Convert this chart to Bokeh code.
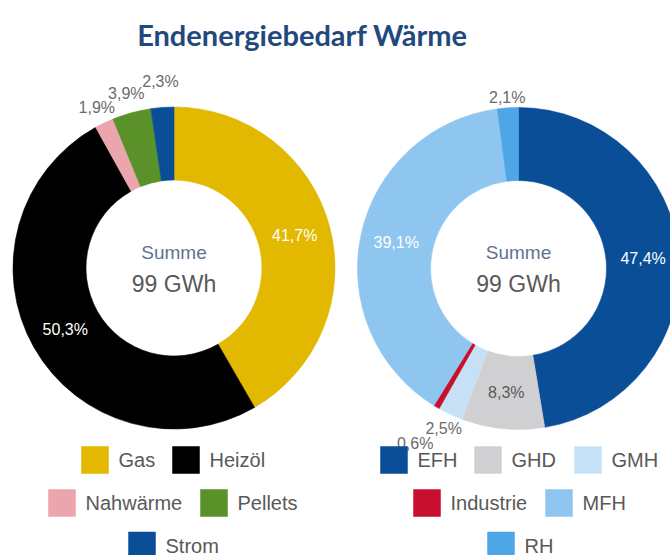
import numpy as np
from bokeh.plotting import figure
from bokeh.models import Range1d, ColumnDataSource
from bokeh.core.properties import value
from bokeh.embed import file_html
from bokeh.resources import INLINE

# ---------------- data ----------------
title_text = "Endenergiebedarf Wärme"
center_caption = "Summe"
center_total = "99 GWh"

energy_categories = ["Gas", "Heizöl", "Nahwärme", "Pellets", "Strom"]
energy_shares = [41.7, 50.3, 1.9, 3.9, 2.3]
energy_colors = ["#e2b800", "#000000", "#eba6ad", "#5a9129", "#0a4e98"]

building_categories = ["EFH", "GHD", "GMH", "Industrie", "MFH", "RH"]
building_shares = [47.4, 8.3, 2.5, 0.6, 39.1, 2.1]
building_colors = ["#0a4e98", "#d0d0d2", "#c6e1f6", "#c8102e", "#8ec6ef", "#4fa6e6"]

# ---------------- layout ----------------
W, H = 670, 555
MARGIN = 0


def X(px):
    return px - MARGIN


def Y(py):
    return H - (py - MARGIN)


R_OUT, R_IN, R_LABEL = 161, 88, 125
LABEL_FONT = "Liberation Sans"

p = figure(width=W, height=H, output_backend="svg", toolbar_location=None,
           x_range=Range1d(0, W), y_range=Range1d(0, H),
           x_axis_location=None, y_axis_location=None, min_border=0)
p.grid.visible = False
p.outline_line_color = None
p.background_fill_color = "white"
p.border_fill_color = "white"


def donut(cats, shares, colors, cpx, cpy, outside_r, legend_x, legend_row):
    cx, cy = X(cpx), Y(cpy)
    vals = np.array(shares, dtype=float)
    frac = vals / vals.sum()
    ends = np.cumsum(frac) * 2 * np.pi
    starts = ends - frac * 2 * np.pi
    src = ColumnDataSource(dict(cat=cats, start=np.pi / 2 - ends,
                                end=np.pi / 2 - starts, color=colors))
    p.annular_wedge(x=cx, y=cy, inner_radius=R_IN, outer_radius=R_OUT,
                    start_angle="start", end_angle="end",
                    fill_color="color", line_color="color", line_width=0.6,
                    source=src)
    mids = (starts + ends) / 2
    lx, ly, lt, lc = [], [], [], []
    for i, v in enumerate(shares):
        txt = f"{v:.1f}".replace(".", ",") + "%"
        if v >= 30:
            r, col = R_LABEL, "white"
        elif v >= 5:
            r, col = R_LABEL, "#595959"
        else:
            r, col = outside_r[i], "#6b6b6b"
        lx.append(cx + r * np.sin(mids[i]))
        ly.append(cy + r * np.cos(mids[i]))
        lt.append(txt)
        lc.append(col)
    p.text(x=lx, y=ly, text=lt, text_color=lc, text_font=value(LABEL_FONT),
           text_font_size="16px", text_align="center", text_baseline="middle")
    # centre texts
    p.text(x=[cx], y=[Y(251.5)], text=[center_caption], text_color="#5f7391",
           text_font=value(LABEL_FONT), text_font_size="19px",
           text_align="center", text_baseline="middle")
    p.text(x=[cx], y=[Y(283.5)], text=[center_total], text_color="#595959",
           text_font=value(LABEL_FONT), text_font_size="23px",
           text_align="center", text_baseline="middle")
    # legend
    rows_y = [459.5, 502.5, 545]
    sw = 27
    sx = [X(legend_x[i]) + sw / 2 for i in range(len(cats))]
    sy = [Y(rows_y[legend_row[i]]) for i in range(len(cats))]
    p.rect(x=sx, y=sy, width=sw, height=sw, fill_color=colors,
           line_color=colors, line_alpha=0.5)
    tx = [X(legend_x[i]) + sw + 10 for i in range(len(cats))]
    p.text(x=tx, y=sy, text=cats, text_color="#595959",
           text_font=value(LABEL_FONT), text_font_size="20px",
           text_align="left", text_baseline="middle")


donut(energy_categories, energy_shares, energy_colors, 173.5, 267.5,
      [0, 0, 178, 181, 187], [81, 172, 48, 200, 128], [0, 0, 1, 1, 2])
donut(building_categories, building_shares, building_colors, 518, 268,
      [0, 0, 177, 203, 0, 171], [380, 474, 574, 413, 545, 487],
      [0, 0, 0, 1, 1, 2])

p.text(x=[X(302)], y=[Y(34)], text=[title_text], text_color="#23497c",
       text_font=value("Lato"), text_font_style="bold", text_font_size="29px",
       text_align="center", text_baseline="alphabetic")

open("out.html", "w").write(file_html(p, INLINE))
